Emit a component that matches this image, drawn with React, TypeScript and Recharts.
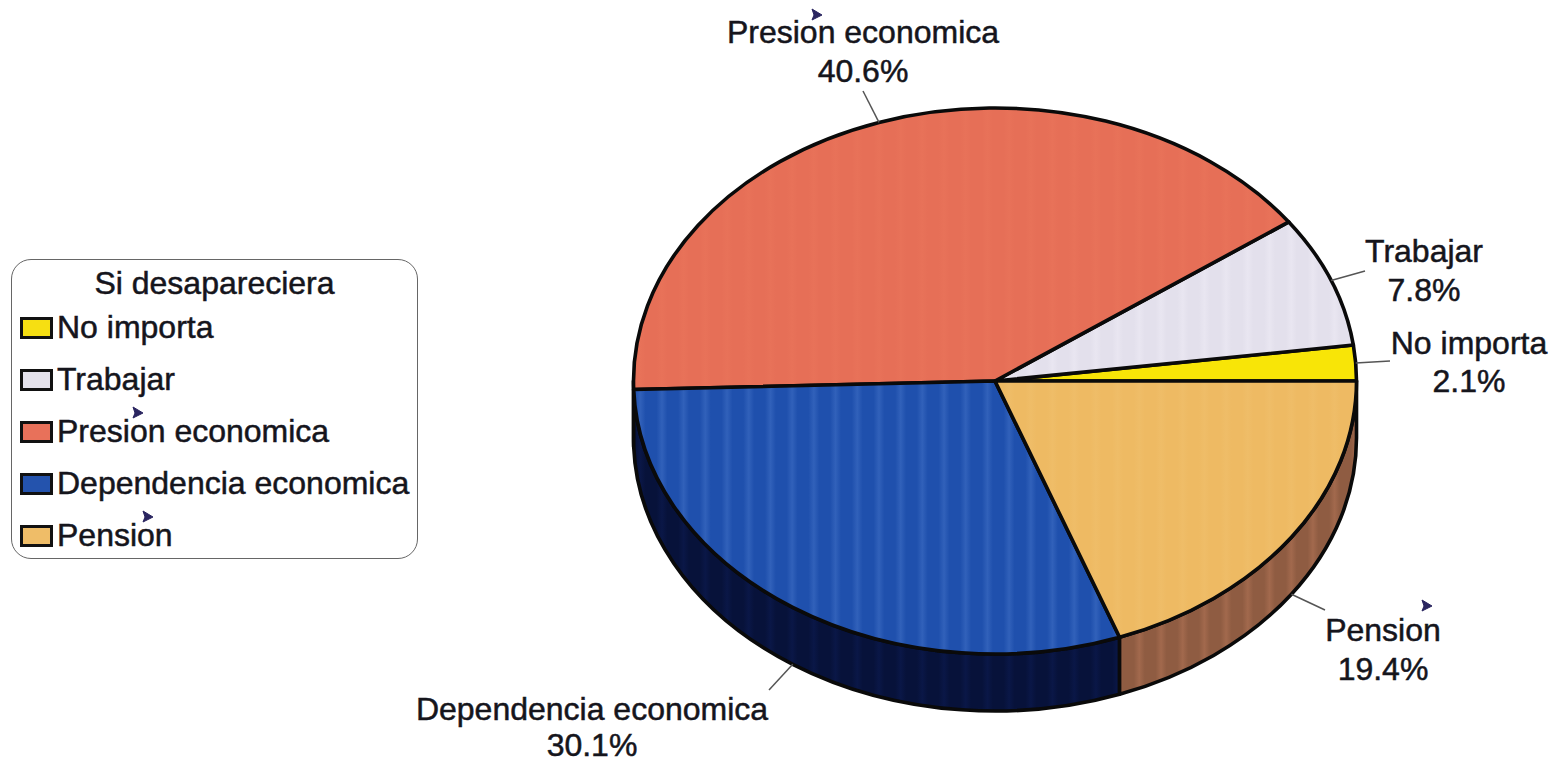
import React from "react";
import { PieChart, Pie, Legend } from "recharts";

const categories = ["No importa", "Trabajar", "Presion economica", "Dependencia economica", "Pension"];
const shares = [2.1, 7.8, 40.6, 30.1, 19.4];
const legendTitle = "Si desapareciera";

const chartData = categories.map((name, i) => ({ name, value: shares[i] }));

// Styling only
const W = 1554, H = 763;
const CX = 995, CY = 381, RX = 361.5, RY = 273, DEPTH = 57;
const FONT = '"Liberation Sans", Arial, sans-serif';
const FONT_SIZE = 32;
const INK = "#15151c";
const TOP_COLORS = [
  ["#f8e507", "#f8e507"],
  ["#e3e0ec", "#e9e6f1"],
  ["#e66f57", "#e87259"],
  ["#1f50ad", "#3161ba"],
  ["#eeba63", "#efbd68"],
];
const WALL_COLORS = [
  ["#000", "#000"],
  ["#000", "#000"],
  ["#000", "#000"],
  ["#07123a", "#0a1747"],
  ["#8f5c42", "#a2694d"],
];
const SWATCH = ["#f6df12", "#e5e2ec", "#e8715a", "#2453ad", "#efbd68"];
// line end (from the rim), text centre, first baseline, line step, accent mark
const LABELS = [
  { lx: 1390, ly: 361, tx: 1469, by: 354, step: 38, accent: null },
  { lx: 1365, ly: 271, tx: 1424, by: 262, step: 39, accent: null },
  { lx: 863, ly: 91, tx: 863, by: 43, step: 39, accent: [816, 15] },
  { lx: 769, ly: 690, tx: 592, by: 720, step: 36, accent: null },
  { lx: 1325, ly: 610, tx: 1383, by: 641, step: 39, accent: [1426, 606] },
];
const LEGEND_ACCENTS: Record<number, [number, number]> = { 2: [137, 413], 4: [147, 517] };

const rad = (d: number) => (d * Math.PI) / 180;
const px = (a: number) => CX + RX * Math.cos(rad(a));
const py = (a: number) => CY - RY * Math.sin(rad(a));

function Stripes({ id, colors }: { id: string; colors: string[] }) {
  return (
    <defs>
      <linearGradient id={id} gradientUnits="userSpaceOnUse" x1={650} y1={0} x2={671.7} y2={0} spreadMethod="repeat">
        <stop offset="0" stopColor={colors[0]} />
        <stop offset="0.3" stopColor={colors[0]} />
        <stop offset="0.55" stopColor={colors[1]} />
        <stop offset="0.8" stopColor={colors[0]} />
        <stop offset="1" stopColor={colors[0]} />
      </linearGradient>
    </defs>
  );
}

function TopSlice(props: any) {
  const { startAngle, endAngle, index } = props;
  const large = endAngle - startAngle > 180 ? 1 : 0;
  const d = `M${CX},${CY} L${px(startAngle)},${py(startAngle)} A${RX},${RY} 0 ${large} 0 ${px(endAngle)},${py(endAngle)} Z`;
  const id = `top-${index}`;
  return (
    <g>
      <Stripes id={id} colors={TOP_COLORS[index]} />
      <path d={d} fill={`url(#${id})`} stroke="#0a0a0a" strokeWidth={3.6} strokeLinejoin="round" />
    </g>
  );
}

function WallSlice(props: any) {
  const { startAngle, endAngle, index } = props;
  const a0 = Math.max(startAngle, 180);
  const a1 = Math.min(endAngle, 360);
  if (a1 <= a0) return <g />;
  const large = a1 - a0 > 180 ? 1 : 0;
  const d =
    `M${px(a0)},${py(a0)} A${RX},${RY} 0 ${large} 0 ${px(a1)},${py(a1)} ` +
    `L${px(a1)},${py(a1) + DEPTH} A${RX},${RY} 0 ${large} 1 ${px(a0)},${py(a0) + DEPTH} Z`;
  const id = `wall-${index}`;
  return (
    <g>
      <Stripes id={id} colors={WALL_COLORS[index]} />
      <path d={d} fill={`url(#${id})`} stroke="#0a0a0a" strokeWidth={3.6} strokeLinejoin="round" />
    </g>
  );
}

function Accent({ x, y }: { x: number; y: number }) {
  return <path d={`M${x - 4},${y - 6} L${x + 6},${y} L${x - 4},${y + 5} L${x - 2},${y} Z`} fill="#2a2560" stroke="#2a2560" strokeWidth={1} />;
}

function renderLabel(props: any) {
  const { index, midAngle } = props;
  const l = LABELS[index];
  const front = midAngle > 180;
  const sx = px(midAngle);
  const sy = py(midAngle) + (front ? DEPTH : 0);
  const textStyle = { stroke: INK, strokeWidth: 0.5 };
  return (
    <g key={index}>
      <line x1={sx} y1={sy} x2={l.lx} y2={l.ly} stroke="#555" strokeWidth={1.5} />
      <text x={l.tx} y={l.by} textAnchor="middle" fontFamily={FONT} fontSize={FONT_SIZE} fill={INK} style={textStyle}>
        {categories[index]}
      </text>
      <text x={l.tx} y={l.by + l.step} textAnchor="middle" fontFamily={FONT} fontSize={FONT_SIZE} fill={INK} style={textStyle}>
        {shares[index].toFixed(1)}%
      </text>
      {l.accent && <Accent x={l.accent[0]} y={l.accent[1]} />}
    </g>
  );
}

function LegendBox() {
  return (
    <div
      style={{
        position: "relative",
        width: 407,
        height: 300,
        boxSizing: "border-box",
        border: "1.5px solid #666",
        borderRadius: 20,
        background: "#fff",
        fontFamily: FONT,
        fontSize: FONT_SIZE,
        color: INK,
        WebkitTextStroke: "0.5px " + INK,
      }}
    >
      <div style={{ position: "absolute", left: 0, right: 0, top: 6, textAlign: "center", lineHeight: "34px" }}>
        {legendTitle}
      </div>
      {categories.map((name, i) => (
        <div key={name}>
          <div
            style={{
              position: "absolute",
              left: 8,
              top: 57 + i * 52,
              width: 33,
              height: 22,
              boxSizing: "border-box",
              border: "3px solid #111",
              background: SWATCH[i],
            }}
          />
          <div style={{ position: "absolute", left: 45, top: 50 + i * 52, lineHeight: "34px", whiteSpace: "nowrap" }}>
            {name}
          </div>
        </div>
      ))}
      <svg width={407} height={300} style={{ position: "absolute", left: -1, top: -1, pointerEvents: "none" }}>
        {Object.entries(LEGEND_ACCENTS).map(([k, p]) => (
          <Accent key={k} x={p[0] - 11} y={p[1] - 259} />
        ))}
      </svg>
    </div>
  );
}

export default function App() {
  return (
    <div style={{ position: "absolute", left: 0, top: 0, width: W, height: H, background: "#fff", overflow: "hidden" }}>
      <PieChart width={W} height={H} margin={{ top: 0, right: 0, bottom: 0, left: 0 }}>
        <Pie
          data={chartData}
          dataKey="value"
          nameKey="name"
          cx={CX}
          cy={CY}
          outerRadius={RX}
          startAngle={0}
          endAngle={360}
          stroke="none"
          shape={WallSlice}
          isAnimationActive={false}
          legendType="none"
        />
        <Pie
          data={chartData}
          dataKey="value"
          nameKey="name"
          cx={CX}
          cy={CY}
          outerRadius={RX}
          startAngle={0}
          endAngle={360}
          stroke="none"
          shape={TopSlice}
          label={renderLabel}
          labelLine={false}
          isAnimationActive={false}
        />
        <Legend
          content={() => <LegendBox />}
          wrapperStyle={{ position: "absolute", left: 11, top: 259, width: 407, height: 300, bottom: "auto", right: "auto" }}
        />
      </PieChart>
    </div>
  );
}
